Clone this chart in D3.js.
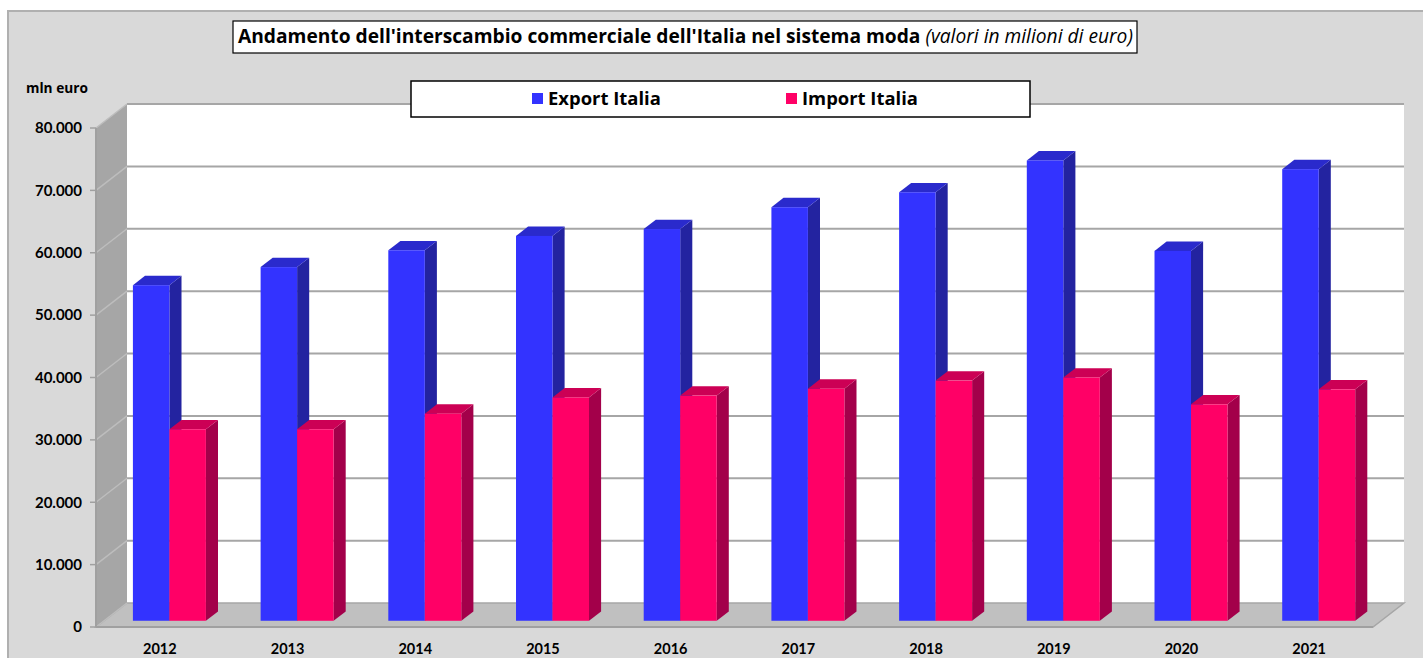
<!DOCTYPE html>
<html lang="it">
<head>
<meta charset="UTF-8">
<title>Andamento dell'interscambio commerciale dell'Italia nel sistema moda</title>
<script src="https://d3js.org/d3.v7.min.js"></script>
<style>
  body { margin: 0; background: #fff; font-family: Lato, "Open Sans", sans-serif; }
  svg text { font-family: Lato, "Open Sans", sans-serif; }
  svg text.wide { font-family: "Open Sans", Lato, sans-serif; }
</style>
</head>
<body>
<div id="chart"></div>
<script>
// data (mln euro)
const years = ["2012", "2013", "2014", "2015", "2016", "2017", "2018", "2019", "2020", "2021"];
const exportItalia = [53800, 56700, 59400, 61700, 62800, 66300, 68700, 73800, 59300, 72400];
const importItalia = [30700, 30700, 33200, 35800, 36100, 37200, 38500, 39000, 34700, 37100];
const yTicks = [0, 10000, 20000, 30000, 40000, 50000, 60000, 70000, 80000];
const seriesNames = ["Export Italia", "Import Italia"];

const W = 1423, H = 658;
// 3D depth offset (front plane -> back wall)
const DX = 31, DY = -24;
const t0 = 0.26, t1 = 0.65; // bar depth range

const svg = d3.select("#chart").append("svg")
  .attr("width", W).attr("height", H);

// scale text font-size so it spans the wanted width
function fitWidth(sel, target) {
  const len = sel.node().getComputedTextLength();
  const fs = parseFloat(sel.style("font-size"));
  sel.style("font-size", (fs * target / len).toFixed(2) + "px");
}

// outer chart area
svg.append("rect")
  .attr("x", 8).attr("y", 11).attr("width", W + 20).attr("height", H + 20)
  .attr("fill", "#d9d9d9").attr("stroke", "#b0b0b0").attr("stroke-width", 2);

const x = d3.scaleBand().domain(years).range([96, 1373]);
const y = d3.scaleLinear().domain([0, 80000]).range([627, 128]);
const inner = d3.scaleBand().domain(seriesNames).range([0, 73]);

const fmt = d => d === 0 ? "0" : d3.format(",")(d).replace(/,/g, ".");

const x0 = x.range()[0], x1 = x.range()[1];
const yb = y(0), yt = y(80000);

// back wall
svg.append("rect")
  .attr("x", x0 + DX).attr("y", yt + DY)
  .attr("width", x1 - x0).attr("height", yb - yt)
  .attr("fill", "#ffffff");

// left wall
svg.append("polygon")
  .attr("points", [[x0, yb], [x0, yt], [x0 + DX, yt + DY], [x0 + DX, yb + DY]].join(" "))
  .attr("fill", "#a6a6a6");

// floor
svg.append("polygon")
  .attr("points", [[x0, yb], [x1, yb], [x1 + DX, yb + DY], [x0 + DX, yb + DY]].join(" "))
  .attr("fill", "#c0c0c0").attr("stroke", "#a6a6a6").attr("stroke-width", 1.5);

// gridlines on back wall
svg.append("g").selectAll("line")
  .data(yTicks.filter(d => d > 0))
  .join("line")
  .attr("x1", x0 + DX).attr("x2", x1 + DX)
  .attr("y1", d => y(d) + DY).attr("y2", d => y(d) + DY)
  .attr("stroke", "#a6a6a6").attr("stroke-width", 2);

// gridlines on left wall
svg.append("g").selectAll("line")
  .data(yTicks)
  .join("line")
  .attr("x1", x0).attr("x2", x0 + DX)
  .attr("y1", d => y(d)).attr("y2", d => y(d) + DY)
  .attr("stroke", "#bdbdbd").attr("stroke-width", 1.5);

// front axes
svg.append("line")
  .attr("x1", x0).attr("x2", x0).attr("y1", yt).attr("y2", yb)
  .attr("stroke", "#a0a0a0").attr("stroke-width", 2);
svg.append("line")
  .attr("x1", x0).attr("x2", x1).attr("y1", yb).attr("y2", yb)
  .attr("stroke", "#a0a0a0").attr("stroke-width", 2);

svg.append("g").selectAll("line")
  .data(yTicks)
  .join("line")
  .attr("x1", x0 - 6).attr("x2", x0)
  .attr("y1", d => y(d)).attr("y2", d => y(d))
  .attr("stroke", "#a0a0a0").attr("stroke-width", 1.5);

svg.append("g").selectAll("text")
  .data(yTicks)
  .join("text")
  .attr("x", 82).attr("y", d => y(d))
  .attr("dy", "0.35em")
  .attr("text-anchor", "end")
  .style("font-size", "15px").style("font-weight", "bold")
  .text(fmt);

svg.append("g").selectAll("text")
  .data(years)
  .join("text")
  .attr("x", d => x(d) + x.bandwidth() / 2).attr("y", 654)
  .attr("text-anchor", "middle")
  .style("font-size", "14.5px").style("font-weight", "bold")
  .text(d => d);

const mln = svg.append("text")
  .attr("class", "wide")
  .attr("x", 26).attr("y", 93)
  .style("font-size", "13px").style("font-weight", "bold")
  .text("mln euro");
fitWidth(mln, 62);

// 3D bars
const colors = {
  "Export Italia": { front: "#3333ff", side: "#2323a0", top: "#2a2acc" },
  "Import Italia": { front: "#ff0066", side: "#a3004a", top: "#cc0055" }
};

const barData = [];
years.forEach((yr, i) => {
  barData.push({ year: yr, s: "Export Italia", v: exportItalia[i] });
  barData.push({ year: yr, s: "Import Italia", v: importItalia[i] });
});

const bw = inner.bandwidth();
const dx0 = t0 * DX, dy0 = t0 * DY, dx1 = t1 * DX, dy1 = t1 * DY;
const ddx = dx1 - dx0, ddy = dy1 - dy0;

const bars = svg.append("g").selectAll("g")
  .data(barData)
  .join("g");

bars.each(function(d) {
  const g = d3.select(this);
  const c = colors[d.s];
  const groupLeft = x(d.year) + x.bandwidth() / 2 - 35 + dx0;
  const bx = groupLeft + inner(d.s);
  const by = y(d.v) + dy0;
  const bb = y(0) + dy0;
  g.append("polygon")
    .attr("points", [[bx + bw, bb], [bx + bw, by], [bx + bw + ddx, by + ddy], [bx + bw + ddx, bb + ddy]].join(" "))
    .attr("fill", c.side);
  g.append("polygon")
    .attr("points", [[bx, by], [bx + bw, by], [bx + bw + ddx, by + ddy], [bx + ddx, by + ddy]].join(" "))
    .attr("fill", c.top);
  g.append("rect")
    .attr("x", bx).attr("y", by)
    .attr("width", bw).attr("height", bb - by)
    .attr("fill", c.front);
});

// title box
svg.append("rect")
  .attr("x", 233).attr("y", 21).attr("width", 904).attr("height", 32)
  .attr("fill", "#fff").attr("stroke", "#000").attr("stroke-width", 1.2);
const title = svg.append("text")
  .attr("class", "wide")
  .attr("x", 238).attr("y", 43)
  .style("font-size", "18px");
title.append("tspan").style("font-weight", "bold")
  .text("Andamento dell'interscambio commerciale dell'Italia nel sistema moda ");
title.append("tspan").style("font-style", "italic")
  .text("(valori in milioni di euro)");
fitWidth(title, 895);

// legend
svg.append("rect")
  .attr("x", 411).attr("y", 81).attr("width", 619).attr("height", 36)
  .attr("fill", "#fff").attr("stroke", "#000").attr("stroke-width", 1.5);
const legendX = [532, 786];
const leg = svg.append("g").selectAll("g")
  .data(seriesNames)
  .join("g")
  .attr("transform", (d, i) => `translate(${legendX[i]},93)`);
leg.append("rect")
  .attr("width", 11).attr("height", 11)
  .attr("fill", d => colors[d].front);
leg.append("text")
  .attr("class", "wide")
  .attr("x", 16).attr("y", 12)
  .style("font-size", "18px").style("font-weight", "bold")
  .text(d => d)
  .each(function(d, i) { fitWidth(d3.select(this), i === 0 ? 113 : 116); });
</script>
</body>
</html>
